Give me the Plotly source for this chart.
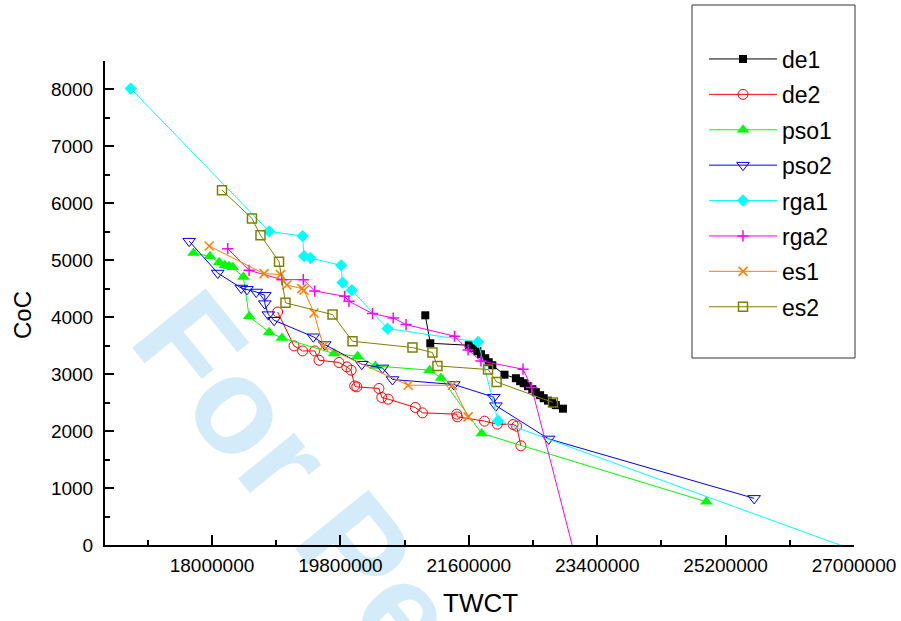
import plotly.graph_objects as go

# ---------------- data ----------------
series_names = ["de1", "de2", "pso1", "pso2", "rga1", "rga2", "es1", "es2"]

de1_x = [20990000, 21060000, 21600000, 21660000, 21720000, 21770000, 21830000, 21880000,
         21930000, 22100000, 22260000, 22320000, 22370000, 22430000, 22490000, 22540000,
         22600000, 22650000, 22710000, 22770000, 22820000, 22920000]
de1_y = [4034, 3543, 3508, 3455, 3403, 3350, 3280, 3210, 3157, 2991, 2929, 2877, 2841,
         2789, 2736, 2684, 2631, 2578, 2535, 2491, 2456, 2394]

de2_x = [18920000, 19150000, 19270000, 19440000, 19500000, 19780000, 19890000, 19950000,
         20000000, 20030000, 20340000, 20380000, 20470000, 20850000, 20950000, 21430000,
         21440000, 21820000, 22000000, 22220000, 22270000, 22330000]
de2_y = [4092, 3496, 3408, 3408, 3245, 3205, 3128, 3070, 2794, 2777, 2749, 2591, 2561,
         2415, 2321, 2298, 2250, 2175, 2122, 2117, 2087, 1742]

pso1_x = [17740000, 17970000, 18100000, 18180000, 18240000, 18290000, 18440000, 18520000,
          18800000, 18980000, 19710000, 20040000, 20290000, 21050000, 21210000, 21780000,
          24930000]
pso1_y = [5127, 5069, 4964, 4911, 4894, 4876, 4706, 4017, 3736, 3636, 3362, 3315, 3145,
          3070, 2935, 1959, 759]

pso2_x = [17680000, 18080000, 18410000, 18490000, 18620000, 18740000, 18740000, 18790000,
          18870000, 19420000, 19580000, 20100000, 20390000, 20530000, 21390000, 21950000,
          21980000, 22720000, 25600000]
pso2_y = [5336, 4776, 4513, 4490, 4443, 4385, 4239, 4046, 3947, 3657, 3520, 3175, 3110,
          2906, 2819, 2596, 2447, 1863, 819]

rga1_x = [16860000, 18800000, 19270000, 19290000, 19380000, 19810000, 19830000, 19960000,
          20460000, 21730000, 22010000, 27130000]
rga1_y = [8016, 5508, 5425, 5073, 5039, 4911, 4608, 4473, 3801, 3566, 2180, -150]

rga2_x = [18220000, 18520000, 18980000, 19280000, 19440000, 19860000, 19920000, 20250000,
          20540000, 20720000, 21400000, 21590000, 21770000, 22360000, 22480000, 23110000]
rga2_y = [5204, 4824, 4660, 4660, 4460, 4367, 4280, 4064, 3987, 3871, 3666, 3426, 3232,
          3087, 2766, -300]

es1_x = [17960000, 18730000, 18960000, 19050000, 19260000, 19290000, 19430000, 19560000,
         20750000, 21370000, 21590000]
es1_y = [5250, 4766, 4748, 4566, 4502, 4473, 4075, 3490, 2806, 2806, 2250]

es2_x = [18140000, 18560000, 18680000, 18940000, 19030000, 19690000, 19970000, 20810000,
         21090000, 21160000, 21870000, 21990000, 22780000]
es2_y = [6232, 5736, 5441, 4976, 4253, 4046, 3578, 3468, 3380, 3145, 3082, 2864, 2503]

x_tick_values = [18000000, 19800000, 21600000, 23400000, 25200000, 27000000]
x_tick_labels = ["18000000", "19800000", "21600000", "23400000", "25200000", "27000000"]
y_tick_values = [0, 1000, 2000, 3000, 4000, 5000, 6000, 7000, 8000]
y_tick_labels = ["0", "1000", "2000", "3000", "4000", "5000", "6000", "7000", "8000"]

xs = [de1_x, de2_x, pso1_x, pso2_x, rga1_x, rga2_x, es1_x, es2_x]
ys = [de1_y, de2_y, pso1_y, pso2_y, rga1_y, rga2_y, es1_y, es2_y]

# ---------------- styles ----------------
colors = ["#000000", "#FF0000", "#00FF00", "#0000FF", "#00FFFF", "#FF00FF", "#FF8000", "#808000"]
symbols = ["square", "circle-open", "triangle-up", "triangle-down-open", "diamond",
           "cross-thin-open", "x-thin-open", "square-open"]
msizes = [8, 10, 11, 11, 9.5, 8, 9, 9]
mlw = [0, 1, 0, 1, 0, 1.5, 1.5, 1.5]

FONT = "Liberation Sans, Arial, Helvetica, sans-serif"

fig = go.Figure()
for i, name in enumerate(series_names):
    fig.add_trace(go.Scatter(
        x=xs[i], y=ys[i], name=name, legendgroup=name,
        mode="lines+markers",
        line=dict(color=colors[i], width=1),
        marker=dict(symbol=symbols[i], size=msizes[i], color=colors[i],
                    line=dict(color=colors[i], width=mlw[i])),
    ))

W, H = 901, 621
L, R, T, B = 105, 47, 61, 76
pw, ph = W - L - R, H - T - B

def px_x(p):
    return (p - L) / pw

def px_y(p):
    return (H - B - p) / ph

fig.update_layout(
    template="none",
    width=W, height=H,
    margin=dict(l=L, r=R, t=T, b=B, pad=0, autoexpand=False),
    paper_bgcolor="white", plot_bgcolor="white",
    font=dict(family=FONT, color="black"),
    showlegend=True,
    legend=dict(
        x=px_x(704), y=px_y(37.5), xanchor="left", yanchor="top",
        bgcolor="rgba(0,0,0,0)", borderwidth=0,
        font=dict(size=23, family=FONT),
        itemwidth=68, tracegroupgap=2.5, maxheight=600,
    ),
    xaxis=dict(
        range=[16500000, 27000000], automargin=False,
        tickmode="array", tickvals=x_tick_values, ticktext=x_tick_labels,
        ticks="inside", ticklen=10, tickwidth=2, tickcolor="black",
        showline=True, linewidth=2, linecolor="black", mirror=False,
        showgrid=False, zeroline=False,
        tickfont=dict(size=19, family=FONT),
        minor=dict(dtick=900000, tick0=18000000, ticks="inside", ticklen=5,
                   tickwidth=2, tickcolor="black", showgrid=False),
        ticklabelstandoff=2,
    ),
    yaxis=dict(
        range=[0, 8500], automargin=False,
        tickmode="array", tickvals=y_tick_values, ticktext=y_tick_labels,
        ticks="inside", ticklen=9, tickwidth=2, tickcolor="black",
        showline=True, linewidth=2, linecolor="black", mirror=False,
        showgrid=False, zeroline=False,
        tickfont=dict(size=19, family=FONT),
        minor=dict(dtick=500, tick0=0, ticks="inside", ticklen=5,
                   tickwidth=2, tickcolor="black", showgrid=False),
        ticklabelstandoff=6,
    ),
)

# axis titles
fig.add_annotation(text="TWCT", xref="paper", yref="paper", x=px_x(480), y=px_y(603),
                   showarrow=False, font=dict(size=26, family=FONT),
                   xanchor="center", yanchor="middle")
fig.add_annotation(text="CoC", xref="paper", yref="paper", x=px_x(22), y=px_y(315),
                   showarrow=False, font=dict(size=24, family=FONT), textangle=-90,
                   xanchor="center", yanchor="middle")

# legend frame
fig.add_shape(type="rect", xref="paper", yref="paper",
              x0=px_x(692), x1=px_x(855), y0=px_y(358), y1=px_y(5),
              line=dict(color="#333333", width=1), fillcolor="rgba(0,0,0,0)", layer="above")

# watermark
fig.add_shape(type="rect", xref="paper", yref="paper",
              x0=px_x(459), x1=px_x(559), y0=px_y(752), y1=px_y(682),
              line=dict(width=0), fillcolor="rgba(0,0,0,0)", layer="below",
              label=dict(text="For Peer Review", textangle=51, textposition="middle center",
                         font=dict(size=137, family=FONT, color="rgb(212,236,250)", weight="bold")))

fig.write_html("out.html")
